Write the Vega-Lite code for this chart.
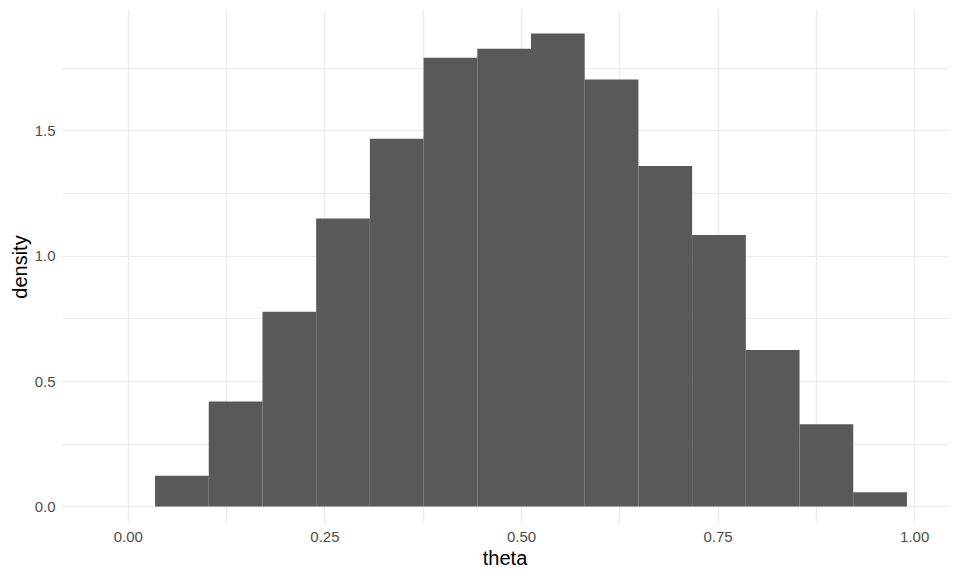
{
"$schema":"https://vega.github.io/schema/vega-lite/v6.json",
"width":960,"height":576,"autosize":{"type":"fit","contains":"padding"},
"padding":{"left":10,"top":10,"right":12,"bottom":8},
"config":{"view":{"stroke":null},"font":"Liberation Sans"},
"data":{"values":[
{"x0":0.0346,"x1":0.1029,"d":0.122,"z":0},
{"x0":0.1029,"x1":0.1712,"d":0.419,"z":0},
{"x0":0.1712,"x1":0.2395,"d":0.777,"z":0},
{"x0":0.2395,"x1":0.3078,"d":1.148,"z":0},
{"x0":0.3078,"x1":0.3761,"d":1.467,"z":0},
{"x0":0.3761,"x1":0.4444,"d":1.790,"z":0},
{"x0":0.4444,"x1":0.5127,"d":1.825,"z":0},
{"x0":0.5127,"x1":0.5810,"d":1.886,"z":0},
{"x0":0.5810,"x1":0.6493,"d":1.703,"z":0},
{"x0":0.6493,"x1":0.7176,"d":1.358,"z":0},
{"x0":0.7176,"x1":0.7859,"d":1.083,"z":0},
{"x0":0.7859,"x1":0.8542,"d":0.624,"z":0},
{"x0":0.8542,"x1":0.9225,"d":0.328,"z":0},
{"x0":0.9225,"x1":0.9908,"d":0.057,"z":0}
]},
"mark":{"type":"rect","color":"#595959"},
"encoding":{
"x":{"field":"x0","type":"quantitative","scale":{"domain":[-0.085,1.043],"nice":false,"zero":false},"title":"theta",
"axis":{"values":[0,0.125,0.25,0.375,0.5,0.625,0.75,0.875,1],"labelExpr":"datum.value*8%2==0 ? format(datum.value,'.2f') : ''","ticks":false,"domain":false,"labelColor":"#4D4D4D","labelFontSize":15,"titleFontSize":20,"titleFontWeight":"normal","titleColor":"#000","labelPadding":6,"gridColor":"#EBEBEB","gridWidth":1.2}},
"x2":{"field":"x1"},
"y":{"field":"d","type":"quantitative","scale":{"domain":[-0.066,1.98],"nice":false,"zero":false},"title":"density",
"axis":{"values":[0,0.25,0.5,0.75,1,1.25,1.5,1.75],"labelExpr":"datum.value*4%2==0 ? format(datum.value,'.1f') : ''","ticks":false,"domain":false,"labelColor":"#4D4D4D","labelFontSize":15,"titleFontSize":20,"titleFontWeight":"normal","titleColor":"#000","labelPadding":6,"gridColor":"#EBEBEB","gridWidth":1.2}},
"y2":{"field":"z"}
}
}
